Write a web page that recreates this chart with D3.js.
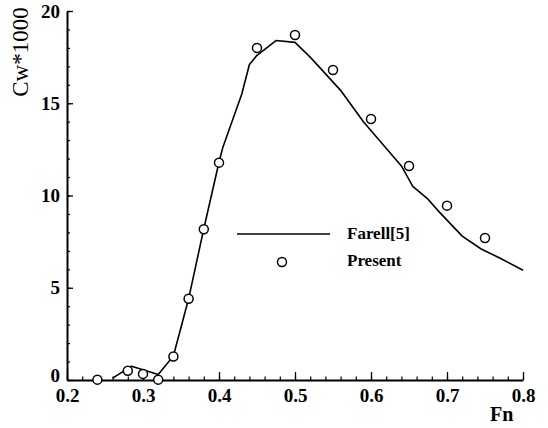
<!DOCTYPE html>
<html>
<head>
<meta charset="utf-8">
<script src="https://cdn.jsdelivr.net/npm/d3@7"></script>
<style>
  html, body { margin: 0; padding: 0; background: #fff; }
  svg { display: block; }
  text { font-family: "Liberation Serif", "Times New Roman", serif; fill: #000; }
</style>
</head>
<body>
<svg id="chart" width="548" height="428"></svg>
<script>
// ---- data ----
const fnTicks = [0.2, 0.3, 0.4, 0.5, 0.6, 0.7, 0.8];
const cwTicks = [0, 5, 10, 15, 20];

const presentFn = [0.24, 0.28, 0.30, 0.32, 0.34, 0.36, 0.38, 0.40, 0.45, 0.50, 0.55, 0.60, 0.65, 0.70, 0.75];
const presentCw = [0.02, 0.5, 0.33, 0.02, 1.27, 4.4, 8.17, 11.78, 18.0, 18.7, 16.8, 14.15, 11.6, 9.45, 7.7];

const farellFn = [0.26, 0.285, 0.32, 0.34, 0.36, 0.38, 0.40, 0.405, 0.43, 0.44, 0.45, 0.475, 0.50, 0.52, 0.56, 0.59, 0.64, 0.655, 0.675, 0.69, 0.72, 0.745, 0.77, 0.80];
const farellCw = [0.1, 0.75, 0.3, 1.3, 4.4, 8.2, 11.8, 12.6, 15.5, 17.1, 17.6, 18.4, 18.3, 17.5, 15.7, 14.0, 11.6, 10.5, 9.8, 9.1, 7.8, 7.1, 6.6, 5.95];

const legendLabels = ["Farell[5]", "Present"];
const xTitle = "Fn";
const yTitle = "Cw*1000";

// ---- layout ----
const svg = d3.select("#chart");
const x = d3.scaleLinear().domain([0.2, 0.8]).range([67, 523]);
const y = d3.scaleLinear().domain([0, 20]).range([380, 11]);

const xMinor = d3.range(0.2, 0.8001, 0.02).map(v => +v.toFixed(2));
const yMinor = d3.range(0, 20.001, 1);

// minor ticks x
svg.append("g")
  .attr("transform", `translate(0,${y(0)})`)
  .call(d3.axisBottom(x).tickValues(xMinor).tickSizeInner(-3.5).tickSizeOuter(0).tickFormat(""))
  .call(g => g.select(".domain").remove())
  .call(g => g.selectAll("line").attr("stroke", "#000").attr("stroke-width", 1.2));

// minor ticks y
svg.append("g")
  .attr("transform", `translate(${x(0.2)},0)`)
  .call(d3.axisLeft(y).tickValues(yMinor).tickSizeInner(-3).tickSizeOuter(0).tickFormat(""))
  .call(g => g.select(".domain").remove())
  .call(g => g.selectAll("line").attr("stroke", "#000").attr("stroke-width", 1.2));

// major x axis
svg.append("g")
  .attr("transform", `translate(0,${y(0)})`)
  .call(d3.axisBottom(x).tickValues(fnTicks).tickSizeInner(-8).tickSizeOuter(0)
        .tickPadding(9).tickFormat(d3.format(".1f")))
  .call(g => g.select(".domain").attr("stroke", "#000").attr("stroke-width", 2))
  .call(g => g.selectAll("line").attr("stroke", "#000").attr("stroke-width", 1.3))
  .call(g => g.selectAll("text").attr("font-size", 19).attr("font-weight", "bold")
        .style("font-family", '"Liberation Serif", serif'));

// major y axis
svg.append("g")
  .attr("transform", `translate(${x(0.2)},0)`)
  .call(d3.axisLeft(y).tickValues(cwTicks).tickSizeInner(-6).tickSizeOuter(0)
        .tickPadding(7).tickFormat(d3.format("d")))
  .call(g => g.select(".domain").attr("stroke", "#000").attr("stroke-width", 2))
  .call(g => g.selectAll("line").attr("stroke", "#000").attr("stroke-width", 1.3))
  .call(g => g.selectAll("text").attr("font-size", 19).attr("font-weight", "bold")
        .attr("dy", d => d === 0 ? "0.1em" : "0.32em")
        .style("font-family", '"Liberation Serif", serif'));

// Farell line
const farell = farellFn.map((f, i) => [f, farellCw[i]]);
svg.append("path")
  .datum(farell)
  .attr("fill", "none")
  .attr("stroke", "#000")
  .attr("stroke-width", 1.6)
  .attr("stroke-linejoin", "round")
  .attr("d", d3.line().x(d => x(d[0])).y(d => y(d[1])));

// Present circles
const present = presentFn.map((f, i) => [f, presentCw[i]]);
svg.append("g").selectAll("circle")
  .data(present)
  .join("circle")
  .attr("cx", d => x(d[0]))
  .attr("cy", d => y(d[1]))
  .attr("r", 4.5)
  .attr("fill", "#fff")
  .attr("stroke", "#000")
  .attr("stroke-width", 1.5);

// legend
const lg = svg.append("g");
lg.append("line").attr("x1", 237).attr("x2", 330).attr("y1", 234).attr("y2", 234)
  .attr("stroke", "#000").attr("stroke-width", 1.6);
lg.append("text").attr("x", 347).attr("y", 239).attr("font-size", 17).attr("font-weight", "bold")
  .text(legendLabels[0]);
lg.append("circle").attr("cx", 282).attr("cy", 262).attr("r", 4.5)
  .attr("fill", "#fff").attr("stroke", "#000").attr("stroke-width", 1.5);
lg.append("text").attr("x", 347).attr("y", 266).attr("font-size", 17).attr("font-weight", "bold")
  .text(legendLabels[1]);

// axis titles
svg.append("text").attr("x", 490).attr("y", 421).attr("font-size", 20).attr("font-weight", "bold")
  .text(xTitle);
svg.append("text")
  .attr("transform", "translate(28,52) rotate(-90)")
  .attr("text-anchor", "middle")
  .attr("font-size", 23)
  .text(yTitle);
</script>
</body>
</html>
